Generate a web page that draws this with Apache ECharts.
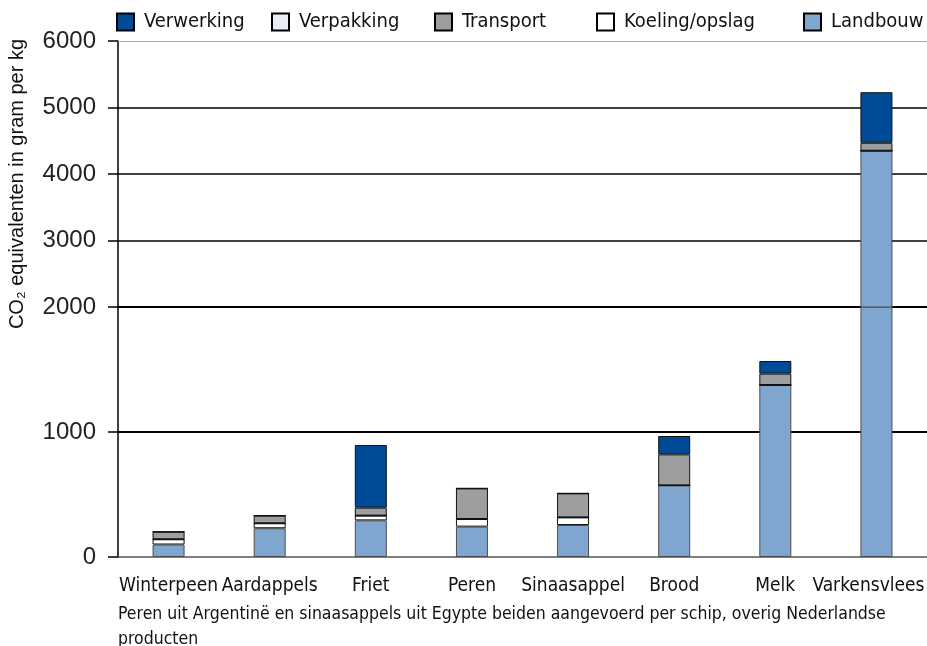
<!DOCTYPE html>
<html>
<head>
<meta charset="utf-8">
<script src="https://cdn.jsdelivr.net/npm/echarts@6/dist/echarts.min.js"></script>
<style>
  html, body { margin: 0; padding: 0; background: #fff; }
  #chart { width: 927px; height: 646px; }
</style>
</head>
<body>
<div id="chart"></div>
<script>
// waarden (gram CO2-eq per kg)
const categories = ['Winterpeen', 'Aardappels', 'Friet', 'Peren', 'Sinaasappel', 'Brood', 'Melk', 'Varkensvlees'];
const landbouw = [100, 230, 293, 243, 256, 573, 1376, 4350];
const koeling = [42, 40, 38, 61, 61, 0, 0, 0];
const verpakking = [0, 0, 0, 0, 0, 0, 0, 0];
const transport = [60, 61, 64, 245, 192, 248, 91, 120];
const verwerking = [0, 0, 501, 0, 0, 147, 101, 760];
const legendOrder = ['Verwerking', 'Verpakking', 'Transport', 'Koeling/opslag', 'Landbouw'];

const NARROW = '"Liberation Sans Narrow", "DejaVu Sans Condensed", sans-serif';
const SANS = '"Liberation Sans", Arial, sans-serif';

const chart = echarts.init(document.getElementById('chart'));

// stapelvolgorde van onder naar boven
const layers = [
  { name: 'Landbouw', values: landbouw, color: '#7FA6CE', border: '#4d4d4d' },
  { name: 'Koeling/opslag', values: koeling, color: '#ffffff', border: '#111' },
  { name: 'Verpakking', values: verpakking, color: '#E8EEF7', border: '#111' },
  { name: 'Transport', values: transport, color: '#9D9E9F', border: '#111' },
  { name: 'Verwerking', values: verwerking, color: '#004B98', border: '#111' },
];

// twee grids: 0-2000 onder en 2000-6000 boven (andere schaal)
const series = [];
[0, 1].forEach((g) => {
  layers.forEach((l) => {
    series.push({
      name: l.name,
      type: 'bar',
      stack: 'g' + g,
      xAxisIndex: g,
      yAxisIndex: g,
      barWidth: 32,
      data: l.values,
      itemStyle: { color: l.color, borderColor: l.border, borderWidth: 1 },
      emphasis: { disabled: true },
    });
  });
});

const legendLeft = [116, 271, 434, 596, 803];
const legends = legendOrder.map((n, i) => ({
  data: [n],
  left: legendLeft[i],
  top: 12,
  padding: 0,
  icon: 'rect',
  itemWidth: 17,
  itemHeight: 17,
  selectedMode: false,
  itemStyle: { borderColor: '#000', borderWidth: 2 },
  textStyle: { fontFamily: NARROW, fontSize: 20, color: '#111', padding: [0, 0, 0, 5] },
}));

// laatste label iets naar links zodat het binnen beeld valt
const xLabels = categories.map((c, i) =>
  i === categories.length - 1 ? { value: c, textStyle: { padding: [0, 16, 0, 0] } } : c
);

const yLabel = {
  fontFamily: SANS, fontSize: 24, color: '#222', margin: 22,
  formatter: (v) => String(v),
};
const yTick = { show: true, length: 10, lineStyle: { color: '#000', width: 1.5 } };

const option = {
  animation: false,
  title: {
    text: 'Peren uit Argentinë en sinaasappels uit Egypte beiden aangevoerd per schip, overig Nederlandse\nproducten',
    left: 113,
    top: 597,
    textStyle: { fontFamily: NARROW, fontSize: 17.5, fontWeight: 'normal', color: '#111', lineHeight: 25 },
  },
  legend: legends,
  graphic: [{
    type: 'text',
    x: 17,
    y: 184,
    rotation: Math.PI / 2,
    style: {
      text: 'CO₂ equivalenten in gram per kg',
      font: '20px "Liberation Sans", Arial, sans-serif',
      fill: '#111',
      align: 'center',
      verticalAlign: 'middle',
    },
  }],
  grid: [
    { left: 118, right: 0, top: 307, bottom: 89, outerBoundsMode: 'none' },
    { left: 118, right: 0, top: 41, bottom: 339, outerBoundsMode: 'none' },
  ],
  xAxis: [
    {
      type: 'category',
      gridIndex: 0,
      data: xLabels,
      axisLine: { lineStyle: { color: '#555', width: 1.5 } },
      axisTick: { length: 10, lineStyle: { color: '#000', width: 1.5 } },
      axisLabel: { interval: 0, fontFamily: NARROW, fontSize: 19, color: '#111', margin: 20 },
    },
    {
      type: 'category',
      gridIndex: 1,
      data: categories,
      position: 'top',
      axisLine: { lineStyle: { color: '#aaa', width: 1 } },
      axisTick: { show: false },
      axisLabel: { show: false },
    },
  ],
  yAxis: [
    {
      type: 'value',
      gridIndex: 0,
      min: 0,
      max: 2000,
      interval: 1000,
      axisLine: { show: true, lineStyle: { color: '#000', width: 1.5 } },
      axisTick: yTick,
      axisLabel: yLabel,
      splitLine: { show: true, showMinLine: false, lineStyle: { color: '#000', width: 2 } },
    },
    {
      type: 'value',
      gridIndex: 1,
      min: 2000,
      max: 6000,
      interval: 1000,
      axisLine: { show: true, lineStyle: { color: '#000', width: 1.5 } },
      axisTick: yTick,
      axisLabel: Object.assign({ showMinLabel: false }, yLabel),
      splitLine: { show: true, showMinLine: false, showMaxLine: false, lineStyle: { color: '#000', width: 1.5 } },
    },
  ],
  series,
};

chart.setOption(option);
</script>
</body>
</html>
